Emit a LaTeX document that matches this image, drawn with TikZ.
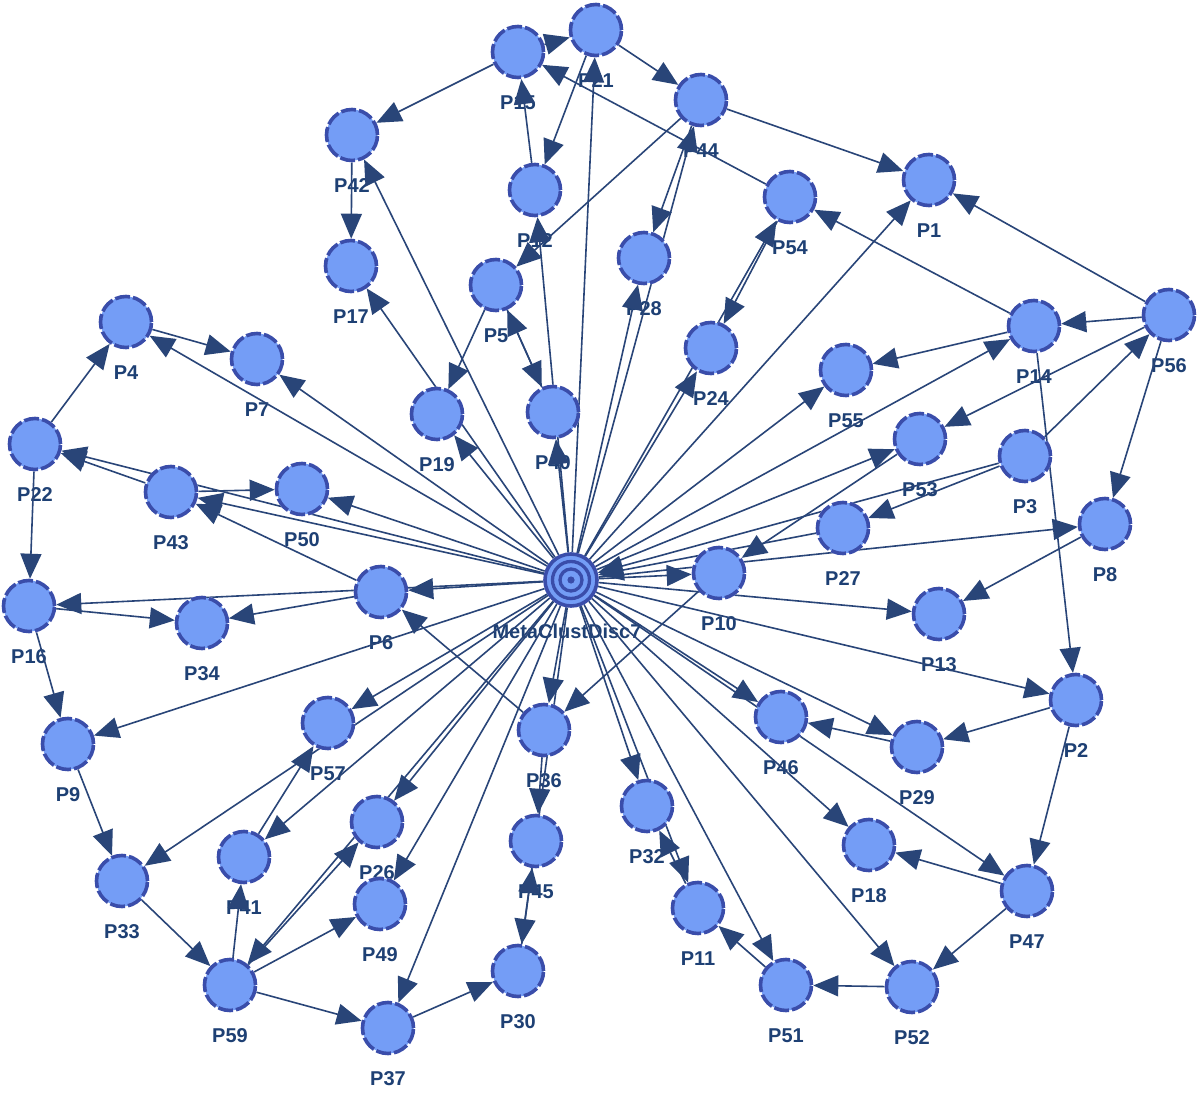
\documentclass[tikz,border=0pt]{standalone}
\usepackage{fontspec}
\setmainfont{Liberation Sans}
\usetikzlibrary{arrows.meta}
\definecolor{nfill}{RGB}{116,157,246}
\definecolor{nbord}{RGB}{58,77,170}
\definecolor{ecol}{RGB}{41,69,120}
\definecolor{lcol}{RGB}{30,64,116}
\pgfdeclarelayer{bg}
\pgfdeclarelayer{labels}
\pgfdeclarelayer{edges}
\pgfsetlayers{bg,labels,edges,main}
\tikzset{
  pn/.style={circle, minimum size=51pt, inner sep=0pt, fill=nfill,
    preaction={draw=white, line width=3.6pt},
    draw=nbord, line width=3.6pt, dash pattern=on 15pt off 3pt},
  mn/.style={circle, minimum size=52pt, inner sep=0pt, fill=nfill, draw=nbord, line width=3.6pt},
  lab/.style={text=lcol, font=\fontsize{20}{24}\selectfont\bfseries, inner sep=0pt},
  edge/.style={draw=ecol, line width=1.6pt, -{Triangle[length=25pt,width=21pt]}}
}
\newcommand\mkpn[3]{%
  \node[pn] (#1) at (#2,#3) {};
  \begin{pgfonlayer}{labels}\node[lab] at (#2,#3+51) {#1};\end{pgfonlayer}}
\begin{document}
\begin{tikzpicture}[x=1pt,y=-1pt]
\begin{pgfonlayer}{bg}
\fill[white] (0,0) rectangle (1200,1094);
\end{pgfonlayer}
\useasboundingbox (0,0) rectangle (1200,1094);
% center node
\node[mn] (M) at (571,580) {};
\draw[nbord, line width=3.3pt] (M) circle[radius=18.5pt];
\draw[nbord, line width=3.3pt] (M) circle[radius=11pt];
\fill[nbord] (M) circle[radius=3.6pt];
\begin{pgfonlayer}{labels}\node[lab] at (567,631) {MetaClustDisc7};\end{pgfonlayer}
% peripheral nodes
\mkpn{P21}{596}{30}
\mkpn{P15}{518}{52}
\mkpn{P44}{701}{100}
\mkpn{P42}{352}{135}
\mkpn{P12}{535}{190}
\mkpn{P1}{929}{180}
\mkpn{P54}{790}{197}
\mkpn{P28}{644}{258}
\mkpn{P17}{351}{266}
\mkpn{P5}{496}{285}
\mkpn{P24}{711}{348}
\mkpn{P14}{1034}{326}
\mkpn{P56}{1169}{315}
\mkpn{P4}{126}{322}
\mkpn{P7}{257}{359}
\mkpn{P55}{846}{370}
\mkpn{P19}{437}{414}
\mkpn{P40}{553}{412}
\mkpn{P53}{920}{439}
\mkpn{P3}{1025}{456}
\mkpn{P22}{35}{444}
\mkpn{P43}{171}{492}
\mkpn{P50}{302}{489}
\mkpn{P27}{843}{528}
\mkpn{P8}{1105}{524}
\mkpn{P10}{719}{573}
\mkpn{P6}{381}{592}
\mkpn{P16}{29}{606}
\mkpn{P34}{202}{623}
\mkpn{P13}{939}{614}
\mkpn{P2}{1076}{700}
\mkpn{P46}{781}{717}
\mkpn{P29}{917}{747}
\mkpn{P57}{328}{723}
\mkpn{P36}{544}{730}
\mkpn{P9}{68}{744}
\mkpn{P32}{647}{806}
\mkpn{P26}{377}{822}
\mkpn{P45}{536}{841}
\mkpn{P18}{869}{845}
\mkpn{P41}{244}{857}
\mkpn{P33}{122}{881}
\mkpn{P47}{1027}{891}
\mkpn{P49}{380}{904}
\mkpn{P11}{698}{908}
\mkpn{P59}{230}{985}
\mkpn{P30}{518}{971}
\mkpn{P51}{786}{985}
\mkpn{P52}{912}{987}
\mkpn{P37}{388}{1028}
% edges
\begin{pgfonlayer}{edges}
\foreach \a/\b in {M/P21,M/P12,M/P40,M/P42,M/P17,M/P19,M/P4,M/P7,M/P22,M/P43,
  M/P50,M/P6,M/P16,M/P9,M/P57,M/P33,M/P41,M/P26,M/P59,M/P49,M/P37,M/P36,M/P30,
  M/P32,M/P11,M/P51,M/P52,M/P18,M/P46,M/P47,M/P29,M/P2,M/P13,M/P8,M/P10,M/P53,
  M/P14,M/P55,M/P1,M/P54,M/P24,M/P44,M/P28,P3/M,P27/M,
  P15/P21,P21/P44,P15/P42,P42/P17,P12/P15,P21/P12,P54/P15,P44/P5,P44/P1,P56/P1,
  P14/P54,P54/P24,P44/P28,P56/P14,P14/P55,P56/P53,P3/P56,P14/P2,P56/P8,P22/P4,
  P4/P7,P43/P22,P43/P50,P6/P43,P22/P16,P6/P34,P16/P34,P5/P19,P36/P6,P5/P40,
  P40/P5,P3/P27,P53/P10,P8/P13,P10/P36,P2/P29,P2/P47,P29/P46,P47/P18,P47/P52,
  P52/P51,P51/P11,P11/P32,P16/P9,P9/P33,P41/P57,P59/P26,P59/P49,P59/P41,
  P33/P59,P59/P37,P37/P30,P36/P45,P30/P45}
  \draw[edge] (\a) -- (\b);
\end{pgfonlayer}
\end{tikzpicture}
\end{document}
